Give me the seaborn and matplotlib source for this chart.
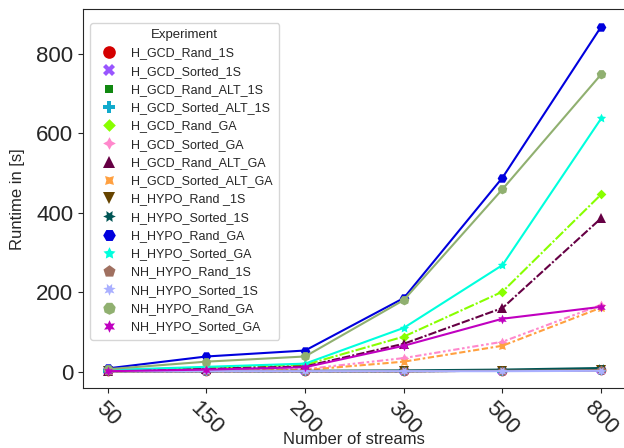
import matplotlib
matplotlib.use("Agg")
import matplotlib.pyplot as plt
import seaborn as sns
import pandas as pd

streams = ["50", "150", "200", "300", "500", "800"]

experiments = [
    "H_GCD_Rand_1S", "H_GCD_Sorted_1S", "H_GCD_Rand_ALT_1S", "H_GCD_Sorted_ALT_1S",
    "H_GCD_Rand_GA", "H_GCD_Sorted_GA", "H_GCD_Rand_ALT_GA", "H_GCD_Sorted_ALT_GA",
    "H_HYPO_Rand _1S", "H_HYPO_Sorted_1S", "H_HYPO_Rand_GA", "H_HYPO_Sorted_GA",
    "NH_HYPO_Rand_1S", "NH_HYPO_Sorted_1S", "NH_HYPO_Rand_GA", "NH_HYPO_Sorted_GA",
]

h_gcd_rand_1s = [1, 1, 1, 1, 2, 3]
h_gcd_sorted_1s = [1, 1, 1, 1, 2, 3]
h_gcd_rand_alt_1s = [1, 1, 1, 1, 2, 4]
h_gcd_sorted_alt_1s = [1, 1, 1, 1, 2, 5]
h_gcd_rand_ga = [3, 10, 17, 88, 201, 446]
h_gcd_sorted_ga = [1, 3, 6, 34, 75, 168]
h_gcd_rand_alt_ga = [2, 7, 13, 70, 160, 386]
h_gcd_sorted_alt_ga = [1, 2, 4, 25, 65, 161]
h_hypo_rand_1s = [1, 1, 1, 1, 2, 4]
h_hypo_sorted_1s = [2, 2, 2, 3, 5, 9]
h_hypo_rand_ga = [8, 38, 53, 185, 488, 868]
h_hypo_sorted_ga = [4, 12, 20, 110, 268, 637]
nh_hypo_rand_1s = [1, 1, 1, 1, 2, 3]
nh_hypo_sorted_1s = [1, 1, 1, 1, 1, 2]
nh_hypo_rand_ga = [6, 25, 38, 180, 459, 748]
nh_hypo_sorted_ga = [1, 5, 11, 65, 133, 163]

runtimes = [
    h_gcd_rand_1s, h_gcd_sorted_1s, h_gcd_rand_alt_1s, h_gcd_sorted_alt_1s,
    h_gcd_rand_ga, h_gcd_sorted_ga, h_gcd_rand_alt_ga, h_gcd_sorted_alt_ga,
    h_hypo_rand_1s, h_hypo_sorted_1s, h_hypo_rand_ga, h_hypo_sorted_ga,
    nh_hypo_rand_1s, nh_hypo_sorted_1s, nh_hypo_rand_ga, nh_hypo_sorted_ga,
]

colors = [
    "#d40000", "#9955ff", "#118811", "#11aacc",
    "#88ff00", "#ff88cc", "#660044", "#ffa040",
    "#664400", "#005555", "#0000dd", "#00ffdd",
    "#a07060", "#aab0ff", "#90b070", "#c000c0",
]

line_dashes = [
    "", (4, 1.5), (1, 1), (3, 1.25, 1.5, 1.25),
    (5, 1, 1, 1), (3, 1.25, 1.25, 1.25, 1.25, 1.25), (4, 1, 4, 1, 1, 1), (3, 1.25, 3, 1.25, 1.25, 1.25),
    "", "", "", "", "", "", "", "",
]


def main():
    rows = []
    for name, vals in zip(experiments, runtimes):
        for s, v in zip(streams, vals):
            rows.append({"Number of streams": s, "Runtime": v, "Experiment": name})
    df = pd.DataFrame(rows)

    sns.set_style("ticks")
    plt.rcParams["font.family"] = ["Liberation Sans", "DejaVu Sans"]

    fig = plt.figure(figsize=(6.24, 4.48), dpi=100)
    ax = fig.add_axes([0.133, 0.133, 0.870, 0.846])

    sns.lineplot(data=df, x="Number of streams", y="Runtime", hue="Experiment",
                 style="Experiment", markers=True,
                 dashes=dict(zip(experiments, line_dashes)),
                 palette=dict(zip(experiments, colors)), ax=ax,
                 markersize=7, markeredgewidth=0)

    # legend: markers only
    handles, labels = ax.get_legend_handles_labels()
    for h in handles:
        h.set_linestyle("")
        h.set_markeredgewidth(0)
    ax.legend(handles, labels, title="Experiment", fontsize=9, title_fontsize=9.5,
              loc="upper left", bbox_to_anchor=(0.013, 0.964), borderaxespad=0,
              markerscale=1.3, borderpad=0.5)

    ax.set_xlabel("Number of streams", fontsize=12, labelpad=-5)
    ax.set_ylabel("Runtime in [s]", fontsize=12, labelpad=8)
    ax.tick_params(axis="both", which="major", labelsize=16)
    plt.setp(ax.get_xticklabels(), rotation=-45)

    fig.savefig("out.png", dpi=100)


if __name__ == "__main__":
    main()
